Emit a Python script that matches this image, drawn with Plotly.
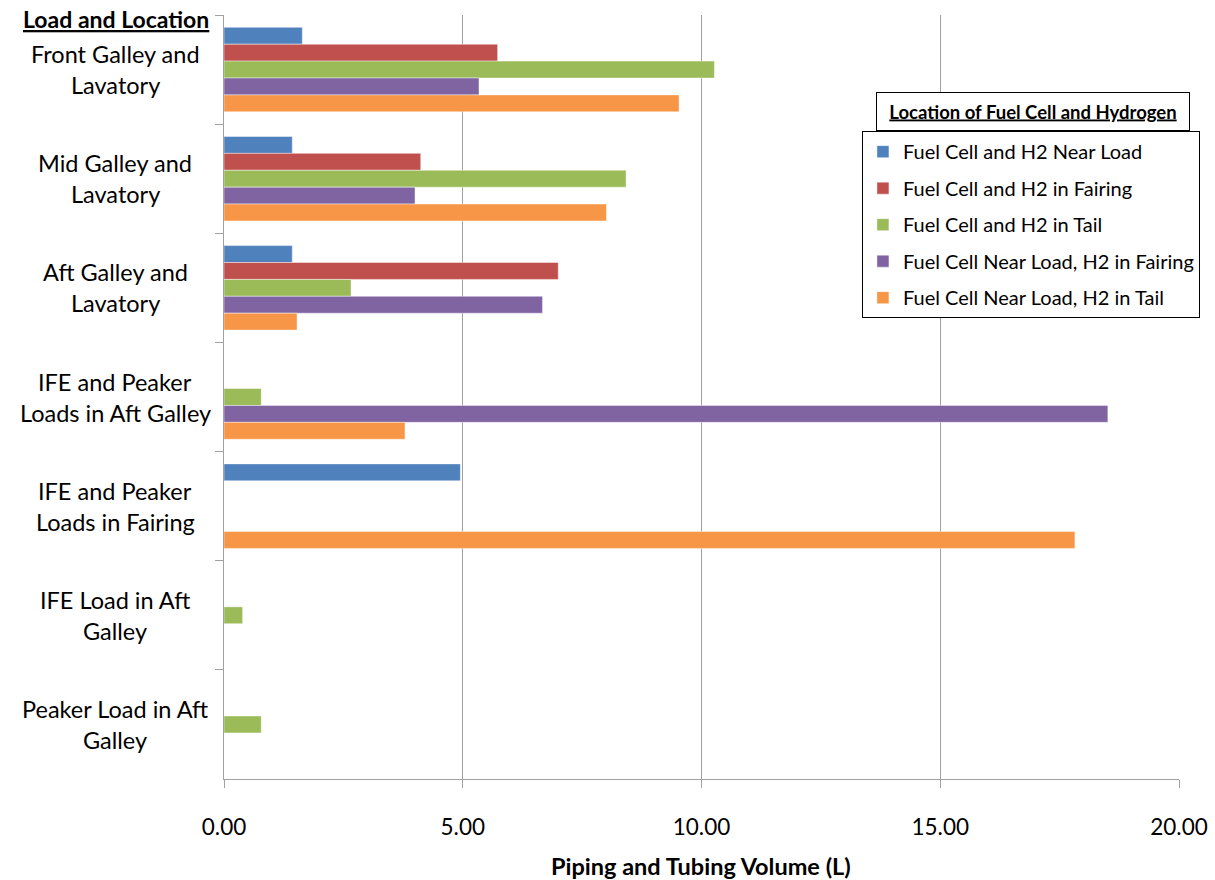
import plotly.graph_objects as go

# Categories (top to bottom) and the two text lines of each label
categories = [
    "Front Galley and Lavatory",
    "Mid Galley and Lavatory",
    "Aft Galley and Lavatory",
    "IFE and Peaker Loads in Aft Galley",
    "IFE and Peaker Loads in Fairing",
    "IFE Load in Aft Galley",
    "Peaker Load in Aft Galley",
]
label_lines = [
    ("Front Galley and", "Lavatory"),
    ("Mid Galley and", "Lavatory"),
    ("Aft Galley and", "Lavatory"),
    ("IFE and Peaker", "Loads in Aft Galley"),
    ("IFE and Peaker", "Loads in Fairing"),
    ("IFE Load in Aft", "Galley"),
    ("Peaker Load in Aft", "Galley"),
]

# Piping and tubing volume (L) per configuration
near_load = [1.64, 1.43, 1.43, None, 4.95, None, None]
in_fairing = [5.73, 4.12, 7.00, None, None, None, None]
in_tail = [10.27, 8.42, 2.66, 0.78, None, 0.39, 0.78]
fc_near_h2_fairing = [5.34, 4.00, 6.67, 18.51, None, None, None]
fc_near_h2_tail = [9.53, 8.01, 1.53, 3.79, 17.82, None, None]

series_names = [
    "Fuel Cell and H2 Near Load",
    "Fuel Cell and H2 in Fairing",
    "Fuel Cell and H2 in Tail",
    "Fuel Cell Near Load, H2 in Fairing",
    "Fuel Cell Near Load, H2 in Tail",
]
series_values = [near_load, in_fairing, in_tail, fc_near_h2_fairing, fc_near_h2_tail]
colors = ["#4F81BD", "#C0504D", "#9BBB59", "#8064A2", "#F79646"]

x_ticks = [0, 5, 10, 15, 20]
x_title = "Piping and Tubing Volume (L)"

FONT = "Lato, Carlito, Calibri, sans-serif"
GRID = "#A0A0A0"

fig = go.Figure()
for i, (name, vals, col) in enumerate(zip(series_names, series_values, colors)):
    fig.add_trace(go.Bar(
        y=categories,
        x=vals,
        name=name,
        orientation="h",
        legendgroup=f"g{i}",
        marker=dict(color=col, line=dict(color="rgba(255,255,255,0.55)", width=0.8)),
    ))

# Two-line, centred category labels to the left of the axis
annotations = []
for cat, (l1, l2) in zip(categories, label_lines):
    for txt, shift in ((l1, 15.5), (l2, -15.5)):
        annotations.append(dict(
            text=txt, x=-0.114, xref="paper", y=cat, yref="y",
            xanchor="center", yanchor="middle", yshift=shift,
            showarrow=False, font=dict(family=FONT, size=23.5, color="#000000"),
        ))

# Header above the category labels
annotations.append(dict(
    text="<b><u>Load and Location</u></b>", x=-0.113, xref="paper",
    y=0.995, yref="paper", xanchor="center", yanchor="middle",
    showarrow=False, font=dict(family=FONT, size=23, color="#000000"),
))

# Horizontal axis title
annotations.append(dict(
    text=f"<b>{x_title}</b>", x=0.4995, xref="paper",
    y=-0.1139, yref="paper", xanchor="center", yanchor="middle",
    showarrow=False, font=dict(family=FONT, size=23.5, color="#000000"),
))

# Legend heading in its own box
annotations.append(dict(
    text="<b><u>Location of Fuel Cell and Hydrogen</u></b>",
    x=0.847, xref="paper", y=0.874, yref="paper",
    xanchor="center", yanchor="middle", showarrow=False,
    width=312, height=37, borderpad=0,
    bordercolor="#000000", borderwidth=1, bgcolor="#FFFFFF",
    font=dict(family=FONT, size=18.5, color="#000000"),
))

fig.update_layout(
    width=1215, height=880,
    margin=dict(l=224, r=36, t=15, b=101, autoexpand=False),
    paper_bgcolor="#FFFFFF", plot_bgcolor="#FFFFFF",
    barmode="group", bargap=0.226, bargroupgap=0,
    font=dict(family=FONT, color="#000000"),
    showlegend=True,
    legend=dict(
        x=0.668, y=0.848, xanchor="left", yanchor="top",
        bordercolor="#000000", borderwidth=1, bgcolor="#FFFFFF",
        font=dict(family=FONT, size=20, color="#000000"),
        traceorder="grouped", tracegroupgap=7.5,
    ),
    annotations=annotations,
    xaxis=dict(
        range=[0, 20], tickvals=x_ticks, tickformat=".2f",
        automargin=False,
        showgrid=True, gridcolor=GRID, gridwidth=1,
        zeroline=False, showline=True, linecolor=GRID, linewidth=1,
        ticks="outside", ticklen=8, tickcolor=GRID,
        ticklabelstandoff=20,
        tickfont=dict(family=FONT, size=22.5, color="#000000"),
    ),
    yaxis=dict(
        autorange="reversed", type="category", automargin=False,
        showticklabels=False, showgrid=False, zeroline=False,
        showline=True, linecolor=GRID, linewidth=1,
        ticks="outside", tickson="boundaries", ticklen=8, tickcolor=GRID,
    ),
)

fig.write_html("out.html")
